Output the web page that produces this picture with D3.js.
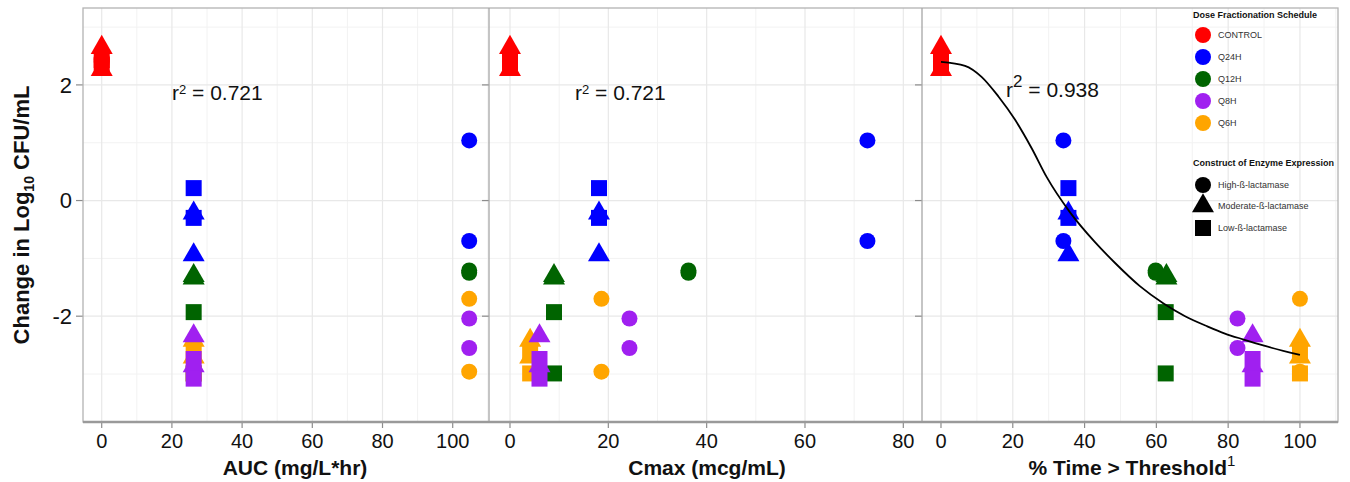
<!DOCTYPE html>
<html><head><meta charset="utf-8">
<script src="https://cdn.jsdelivr.net/npm/d3@7"></script>
<style>
html,body{margin:0;padding:0;background:#fff;}
svg{display:block;font-family:"Liberation Sans",Arial,Helvetica,sans-serif;}
</style></head><body>
<svg id="chart" width="1350" height="482"></svg>
<script>
// ---------------- DATA ----------------
const schedules = ["CONTROL", "Q24H", "Q12H", "Q8H", "Q6H"];
const scheduleColors = ["#ff0000", "#0000ff", "#006400", "#a020f0", "#ffa500"];
const constructs = ["High-ß-lactamase", "Moderate-ß-lactamase", "Low-ß-lactamase"];
const constructShapes = ["circle", "triangle", "square"];

// one entry per observation
const obsSchedule = [
  "CONTROL","CONTROL","CONTROL","CONTROL","CONTROL","CONTROL",
  "Q24H","Q24H","Q24H","Q24H","Q24H","Q24H",
  "Q12H","Q12H","Q12H","Q12H","Q12H","Q12H",
  "Q6H","Q6H","Q6H","Q6H","Q6H","Q6H",
  "Q8H","Q8H","Q8H","Q8H","Q8H","Q8H"
];
const obsConstruct = [
  "High-ß-lactamase","High-ß-lactamase","Moderate-ß-lactamase","Moderate-ß-lactamase","Low-ß-lactamase","Low-ß-lactamase",
  "High-ß-lactamase","High-ß-lactamase","Moderate-ß-lactamase","Moderate-ß-lactamase","Low-ß-lactamase","Low-ß-lactamase",
  "High-ß-lactamase","High-ß-lactamase","Moderate-ß-lactamase","Moderate-ß-lactamase","Low-ß-lactamase","Low-ß-lactamase",
  "High-ß-lactamase","High-ß-lactamase","Moderate-ß-lactamase","Moderate-ß-lactamase","Low-ß-lactamase","Low-ß-lactamase",
  "High-ß-lactamase","High-ß-lactamase","Moderate-ß-lactamase","Moderate-ß-lactamase","Low-ß-lactamase","Low-ß-lactamase"
];
const obsChange = [
  2.45, 2.40, 2.646, 2.265, 2.43, 2.35,
  1.04, -0.70, -0.22, -0.94, 0.215, -0.30,
  -1.21, -1.25, -1.30, -1.34, -1.93, -2.99,
  -1.70, -2.96, -2.42, -2.71, -2.60, -2.99,
  -2.04, -2.55, -2.34, -2.86, -2.74, -3.08
];
const obsAUC = [
  0, 0, 0, 0, 0, 0,
  104.7, 104.7, 26.2, 26.2, 26.2, 26.2,
  104.7, 104.7, 26.2, 26.2, 26.2, 26.2,
  104.7, 104.7, 26.2, 26.2, 26.2, 26.2,
  104.7, 104.7, 26.2, 26.2, 26.2, 26.2
];
const obsCmax = [
  0, 0, 0, 0, 0, 0,
  72.7, 72.7, 18.1, 18.1, 18.1, 18.1,
  36.3, 36.3, 8.95, 8.95, 8.95, 8.95,
  18.6, 18.6, 4.1, 4.1, 4.1, 4.1,
  24.3, 24.3, 6.0, 6.0, 6.0, 6.0
];
const obsTime = [
  0, 0, 0, 0, 0, 0,
  34.1, 34.1, 35.5, 35.5, 35.5, 35.5,
  59.8, 59.8, 62.8, 62.8, 62.6, 62.6,
  100, 100, 100, 100, 100, 100,
  82.6, 82.6, 86.8, 86.8, 86.8, 86.8
];

// fitted curve (panel 3)
const curveTime   = [0, 6.7, 11.3, 16, 20.6, 25.3, 29.5, 35.9, 42.9, 48.5, 55.4, 62, 68.0, 74, 79.1, 84.1, 90, 100];
const curveChange = [2.40, 2.33, 2.14, 1.80, 1.40, 0.90, 0.40, -0.20, -0.72, -1.08, -1.48, -1.78, -2.00, -2.17, -2.30, -2.40, -2.51, -2.67];

const r2Values = ["0.721", "0.721", "0.938"];
const aucTicks = [0, 20, 40, 60, 80, 100];
const cmaxTicks = [0, 20, 40, 60, 80];
const timeTicks = [0, 20, 40, 60, 80, 100];
const changeTicks = [-2, 0, 2];
const panelTitles = ["AUC (mg/L*hr)", "Cmax (mcg/mL)", "% Time > Threshold"];

// ---------------- LAYOUT ----------------
const svg = d3.select("#chart");
const plotTop = 8, plotBottom = 422;
const y = d3.scaleLinear().domain([-3.83, 3.33]).range([plotBottom, plotTop]);

const panels = [
  { x0: 83,  x1: 489,  domain: [-5.33, 110.34], ticks: aucTicks,  minor: [10,30,50,70,90,110], values: obsAUC,  titleX: 295 },
  { x0: 489, x1: 922,  domain: [-4.27, 83.8],   ticks: cmaxTicks, minor: [10,30,50,70],       values: obsCmax, titleX: 707 },
  { x0: 922, x1: 1338, domain: [-5.29, 110.6],  ticks: timeTicks, minor: [10,30,50,70,90,110], values: obsTime, titleX: 1132 }
];
panels.forEach(p => { p.x = d3.scaleLinear().domain(p.domain).range([p.x0, p.x1]); });

const colorScale = d3.scaleOrdinal().domain(schedules).range(scheduleColors);
const shapeScale = d3.scaleOrdinal().domain(constructs).range(constructShapes);

function shapePath(shape) {
  if (shape === "circle") { const r = 8; return `M${r},0A${r},${r} 0 1,1 ${-r},0A${r},${r} 0 1,1 ${r},0Z`; }
  if (shape === "triangle") { const r = 12.7, h = r * Math.sqrt(3) / 2; return `M0,${-r}L${h},${r/2}L${-h},${r/2}Z`; }
  const s = 8; return `M${-s},${-s}H${s}V${s}H${-s}Z`;
}

const minorY = [-3, -1, 1, 3];

// grid
panels.forEach(p => {
  const g = svg.append("g");
  g.selectAll(".mx").data(p.minor.filter(v => v > p.domain[0] && v < p.domain[1])).enter().append("line")
    .attr("x1", d => p.x(d)).attr("x2", d => p.x(d)).attr("y1", plotTop).attr("y2", plotBottom)
    .attr("stroke", "#f2f2f2").attr("stroke-width", 1);
  g.selectAll(".my").data(minorY).enter().append("line")
    .attr("x1", p.x0).attr("x2", p.x1).attr("y1", d => y(d)).attr("y2", d => y(d))
    .attr("stroke", "#f2f2f2").attr("stroke-width", 1);
  g.selectAll(".Mx").data(p.ticks).enter().append("line")
    .attr("x1", d => p.x(d)).attr("x2", d => p.x(d)).attr("y1", plotTop).attr("y2", plotBottom)
    .attr("stroke", "#e8e8e8").attr("stroke-width", 1.2);
  g.selectAll(".My").data(changeTicks).enter().append("line")
    .attr("x1", p.x0).attr("x2", p.x1).attr("y1", d => y(d)).attr("y2", d => y(d))
    .attr("stroke", "#e8e8e8").attr("stroke-width", 1.2);
  // y tick marks on the left of each panel
  g.selectAll(".yt").data(changeTicks).enter().append("line")
    .attr("x1", p.x0 - 7).attr("x2", p.x0).attr("y1", d => y(d)).attr("y2", d => y(d))
    .attr("stroke", "#8c8c8c").attr("stroke-width", 1.2);
  // x axis ticks + labels
  g.selectAll(".xt").data(p.ticks).enter().append("line")
    .attr("x1", d => p.x(d)).attr("x2", d => p.x(d)).attr("y1", plotBottom).attr("y2", plotBottom + 6)
    .attr("stroke", "#8c8c8c").attr("stroke-width", 1.2);
  g.selectAll(".xl").data(p.ticks).enter().append("text")
    .attr("x", d => p.x(d)).attr("y", 448).attr("text-anchor", "middle")
    .attr("font-size", 20).attr("fill", "#111").text(d => d);
});

// panel borders
svg.append("rect").attr("x", 83).attr("y", plotTop).attr("width", 1338 - 83).attr("height", plotBottom - plotTop)
  .attr("fill", "none").attr("stroke", "#b3b3b3").attr("stroke-width", 1.3);
[489, 922].forEach(xv => svg.append("line").attr("x1", xv).attr("x2", xv).attr("y1", plotTop).attr("y2", plotBottom)
  .attr("stroke", "#a6a6a6").attr("stroke-width", 1.3));
svg.append("line").attr("x1", 83).attr("x2", 1338).attr("y1", plotBottom).attr("y2", plotBottom)
  .attr("stroke", "#9a9a9a").attr("stroke-width", 2.5);

// y tick labels (first panel)
svg.selectAll(".yl").data(changeTicks).enter().append("text")
  .attr("x", 72).attr("y", d => y(d)).attr("dy", "0.36em").attr("text-anchor", "end")
  .attr("font-size", 22).attr("fill", "#111").text(d => d);

// points
const idx = d3.range(obsChange.length);
panels.forEach(p => {
  svg.append("g").selectAll("path").data(idx).enter().append("path")
    .attr("transform", i => `translate(${p.x(p.values[i])},${y(obsChange[i])})`)
    .attr("d", i => shapePath(shapeScale(obsConstruct[i])))
    .attr("fill", i => colorScale(obsSchedule[i]));
});

// fitted curve in panel 3
const p3 = panels[2];
const line = d3.line().x(i => p3.x(curveTime[i])).y(i => y(curveChange[i])).curve(d3.curveMonotoneX);
svg.append("path").attr("d", line(d3.range(curveTime.length)))
  .attr("fill", "none").attr("stroke", "#000").attr("stroke-width", 1.8);

// r² annotations
const r2a = svg.append("text").attr("x", 172).attr("y", 100).attr("font-size", 21).attr("fill", "#111");
r2a.append("tspan").text("r");
r2a.append("tspan").attr("font-size", 13).attr("dy", -6).text("2");
r2a.append("tspan").attr("dy", 6).text(" = " + r2Values[0]);
const r2b = svg.append("text").attr("x", 575).attr("y", 100).attr("font-size", 21).attr("fill", "#111");
r2b.append("tspan").text("r");
r2b.append("tspan").attr("font-size", 13).attr("dy", -6).text("2");
r2b.append("tspan").attr("dy", 6).text(" = " + r2Values[1]);
const r2c = svg.append("text").attr("x", 1006).attr("y", 97).attr("font-size", 21).attr("fill", "#111");
r2c.append("tspan").text("r");
r2c.append("tspan").attr("font-size", 17).attr("dy", -10).text("2");
r2c.append("tspan").attr("dy", 10).text(" = " + r2Values[2]);

// axis titles
svg.append("text").attr("x", panels[0].titleX).attr("y", 475).attr("text-anchor", "middle")
  .attr("font-size", 21).attr("font-weight", "bold").attr("fill", "#111").text(panelTitles[0]);
svg.append("text").attr("x", panels[1].titleX).attr("y", 475).attr("text-anchor", "middle")
  .attr("font-size", 21).attr("font-weight", "bold").attr("fill", "#111").text(panelTitles[1]);
const t3 = svg.append("text").attr("x", panels[2].titleX).attr("y", 475).attr("text-anchor", "middle")
  .attr("font-size", 21).attr("font-weight", "bold").attr("fill", "#111");
t3.append("tspan").text(panelTitles[2]);
t3.append("tspan").attr("font-size", 15).attr("font-weight", "normal").attr("dy", -9).text("1");

const yt = svg.append("text").attr("transform", "translate(29,215) rotate(-90)").attr("text-anchor", "middle")
  .attr("font-size", 22).attr("font-weight", "bold").attr("fill", "#111");
yt.append("tspan").text("Change in Log");
yt.append("tspan").attr("font-size", 14).attr("dy", 5).text("10");
yt.append("tspan").attr("dy", -5).text(" CFU/mL");

// legends
const lg = svg.append("g");
lg.append("text").attr("x", 1193).attr("y", 18).attr("font-size", 9).attr("font-weight", "bold")
  .attr("fill", "#111").text("Dose Fractionation Schedule");
schedules.forEach((s, i) => {
  const cy = 35 + i * 22;
  lg.append("path").attr("transform", `translate(1203,${cy})`).attr("d", shapePath("circle")).attr("fill", colorScale(s));
  lg.append("text").attr("x", 1218).attr("y", cy + 3.3).attr("font-size", 9).attr("fill", "#333").text(s);
});
lg.append("text").attr("x", 1193).attr("y", 166).attr("font-size", 9).attr("font-weight", "bold")
  .attr("fill", "#111").text("Construct of Enzyme Expression");
const shapeY = [185, 206, 228];
constructs.forEach((c, i) => {
  lg.append("path").attr("transform", `translate(1203,${shapeY[i]})`).attr("d", shapePath(shapeScale(c))).attr("fill", "#000");
  lg.append("text").attr("x", 1218).attr("y", shapeY[i] + 3.3).attr("font-size", 9).attr("fill", "#333").text(c);
});
</script>
</body></html>
